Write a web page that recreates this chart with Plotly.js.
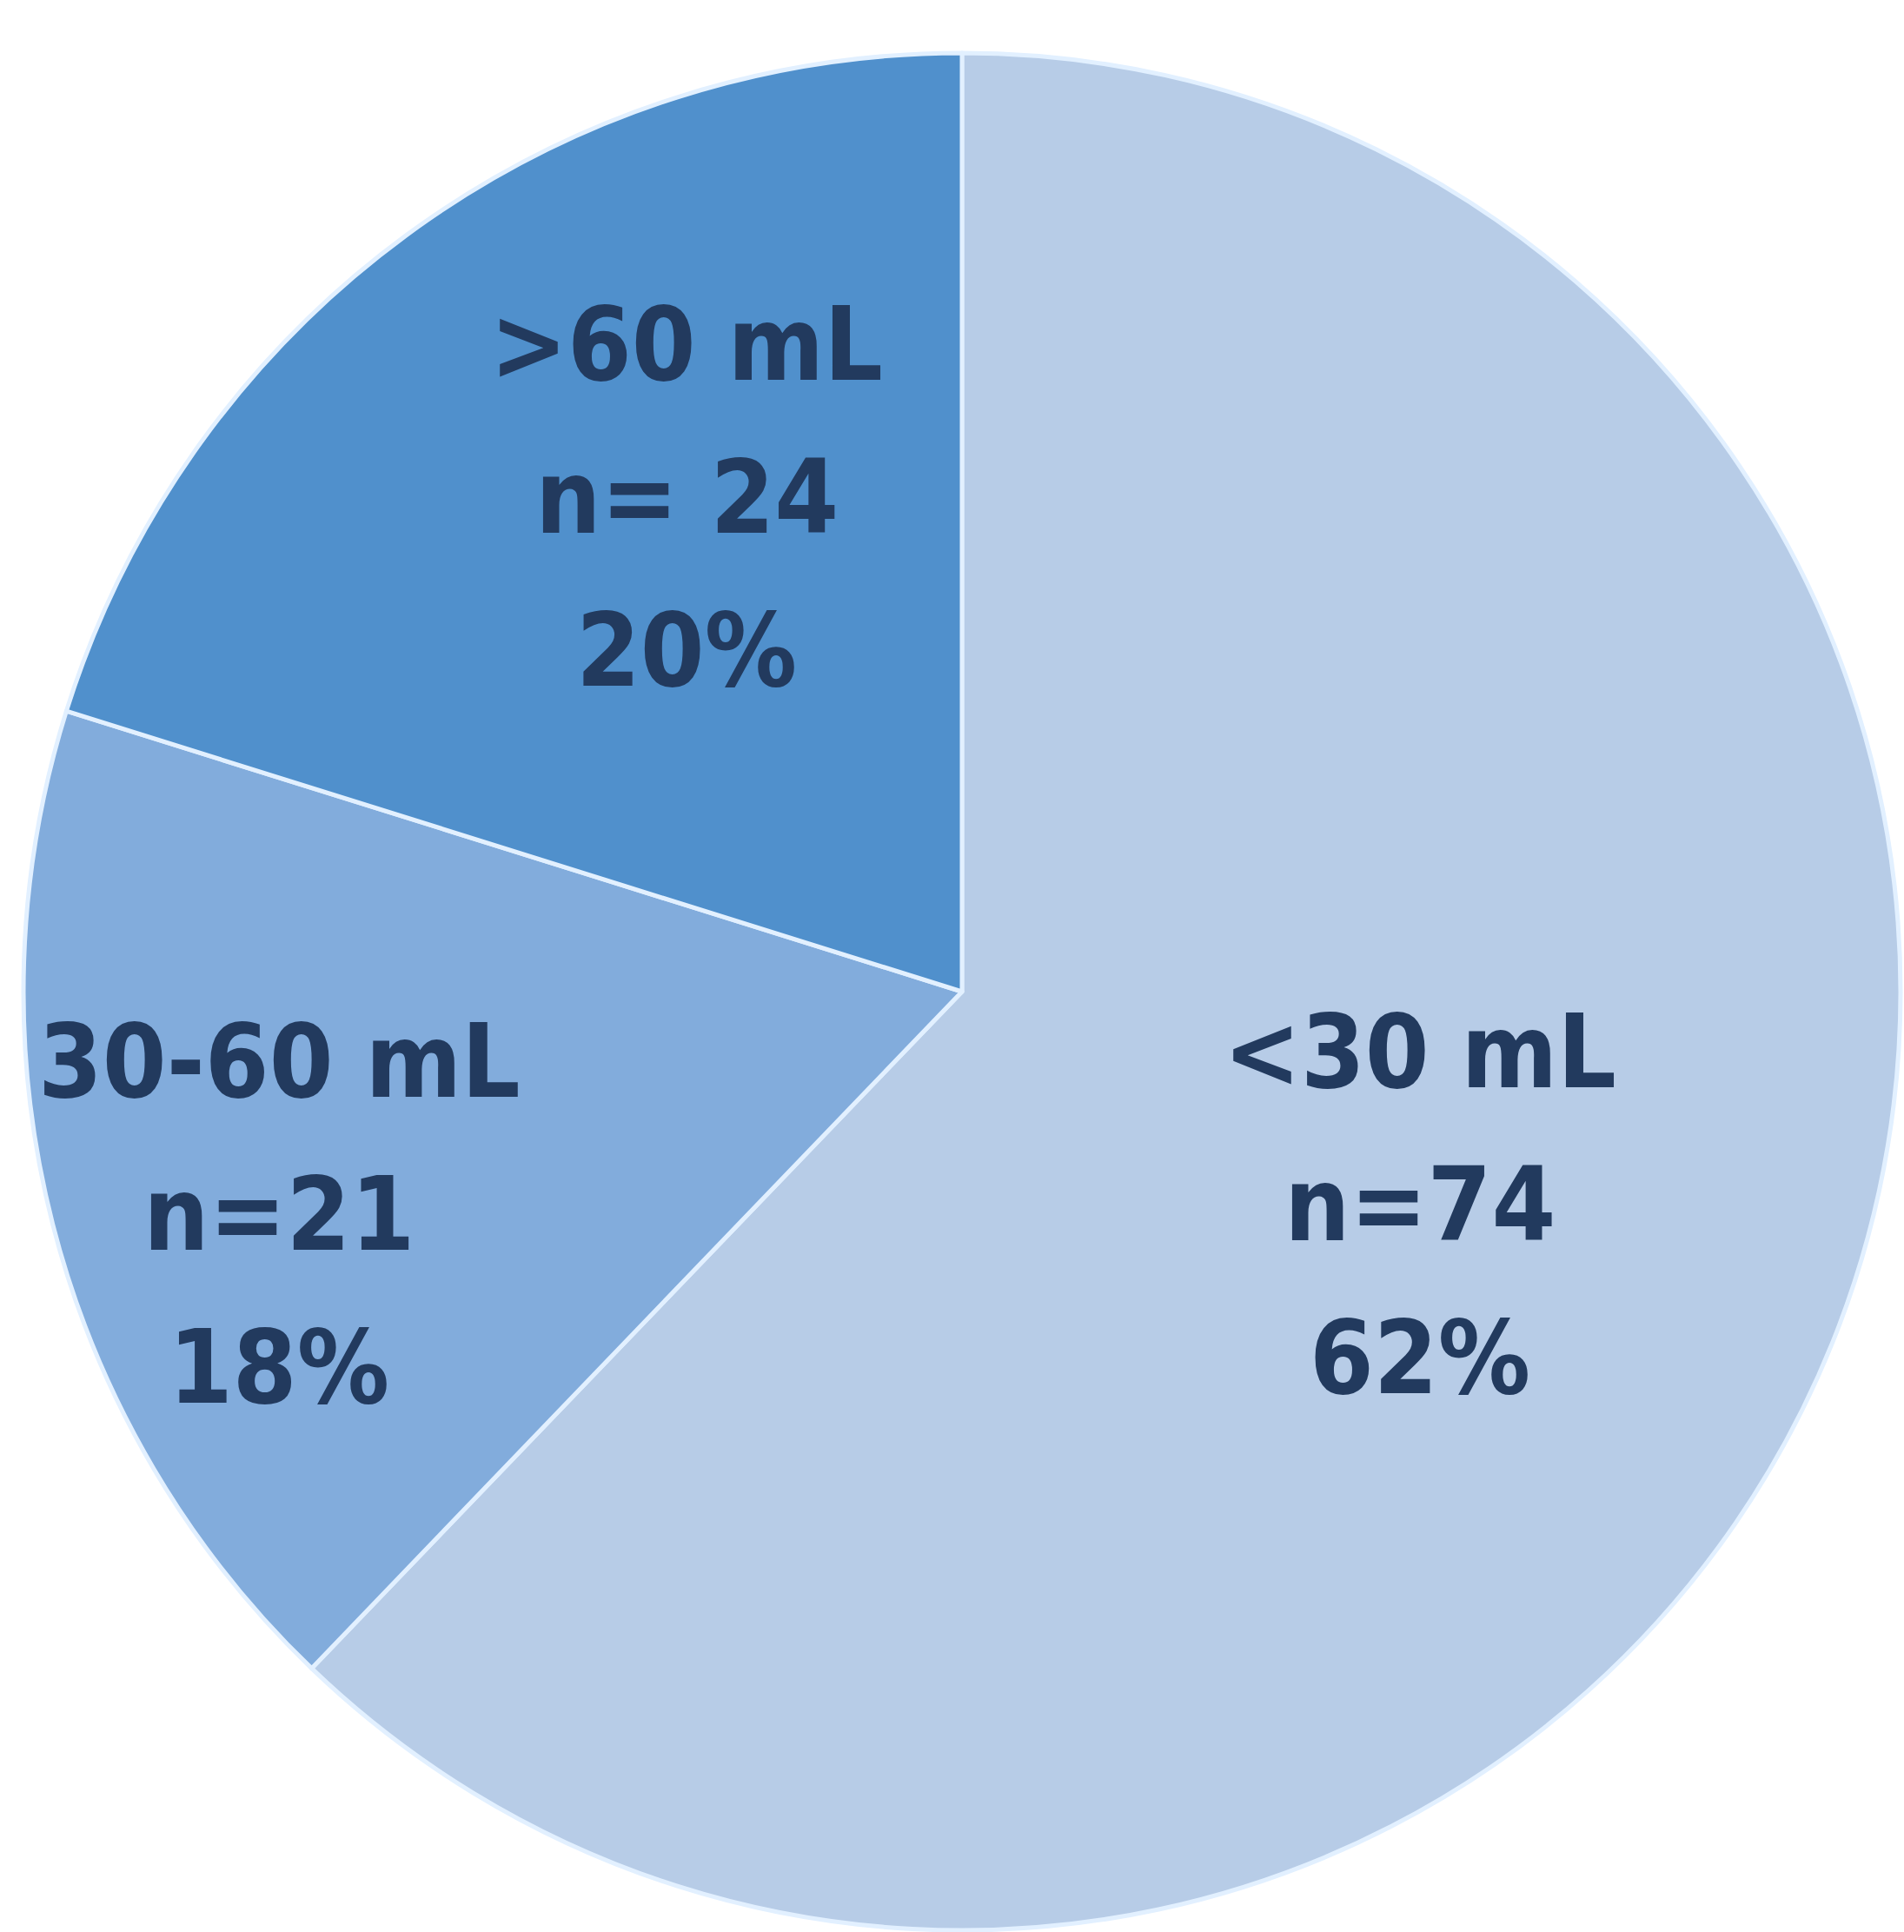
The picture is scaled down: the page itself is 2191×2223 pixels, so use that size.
<!DOCTYPE html>
<html>
<head>
<meta charset="utf-8">
<script src="https://cdn.plot.ly/plotly-3.0.1.min.js"></script>
<style>
  html, body { margin: 0; padding: 0; background: #ffffff; }
  #chart { width: 2191px; height: 2223px; }
</style>
</head>
<body>
<div id="chart"></div>
<script>
// ---- data ----
const categories = ['<30 mL', '30-60 mL', '>60 mL'];
const counts = [74, 21, 24];
const nSeparator = ['', '', ' '];   // "n= 24" is written with a space in the original
const sliceColors = ['#b7cce7', '#82acdc', '#5090cc'];

// ---- layout settings (positions in pixels of the 2191x2223 page) ----
const W = 2191, H = 2223;
const cx = 1107, cy = 1141, r = 1080;
const labelCenters = [[1634, 1386], [321, 1397], [790, 572]];
const lineGap = 176;
const fontSize = 118;
const textColor = '#223a5e';

const total = counts.reduce((a, b) => a + b, 0);
const pcts = counts.map(c => Math.round(c / total * 100));

const annotations = [];
categories.forEach((cat, i) => {
  const lines = [cat, 'n=' + nSeparator[i] + counts[i], pcts[i] + '%'];
  const [lx, ly] = labelCenters[i];
  lines.forEach((t, k) => {
    const py = ly + (k - 1) * lineGap;
    annotations.push({
      text: t,
      x: lx / W,
      y: 1 - py / H,
      xref: 'paper', yref: 'paper',
      xanchor: 'center', yanchor: 'middle',
      showarrow: false,
      font: { family: 'DejaVu Sans Condensed, DejaVu Sans, sans-serif', size: fontSize, color: textColor, weight: 'bold' }
    });
  });
});

const trace = {
  type: 'pie',
  labels: categories,
  values: counts,
  sort: false,
  direction: 'clockwise',
  rotation: 0,
  textinfo: 'none',
  hoverinfo: 'label+value+percent',
  marker: { colors: sliceColors, line: { color: '#e2f0ff', width: 5 } },
  domain: {
    x: [(cx - r) / W, (cx + r) / W],
    y: [(H - cy - r) / H, (H - cy + r) / H]
  },
  showlegend: false
};

const layout = {
  width: W,
  height: H,
  margin: { l: 0, r: 0, t: 0, b: 0 },
  paper_bgcolor: '#ffffff',
  plot_bgcolor: '#ffffff',
  showlegend: false,
  annotations: annotations
};

Plotly.newPlot('chart', [trace], layout, { displayModeBar: false, staticPlot: true });
</script>
</body>
</html>
